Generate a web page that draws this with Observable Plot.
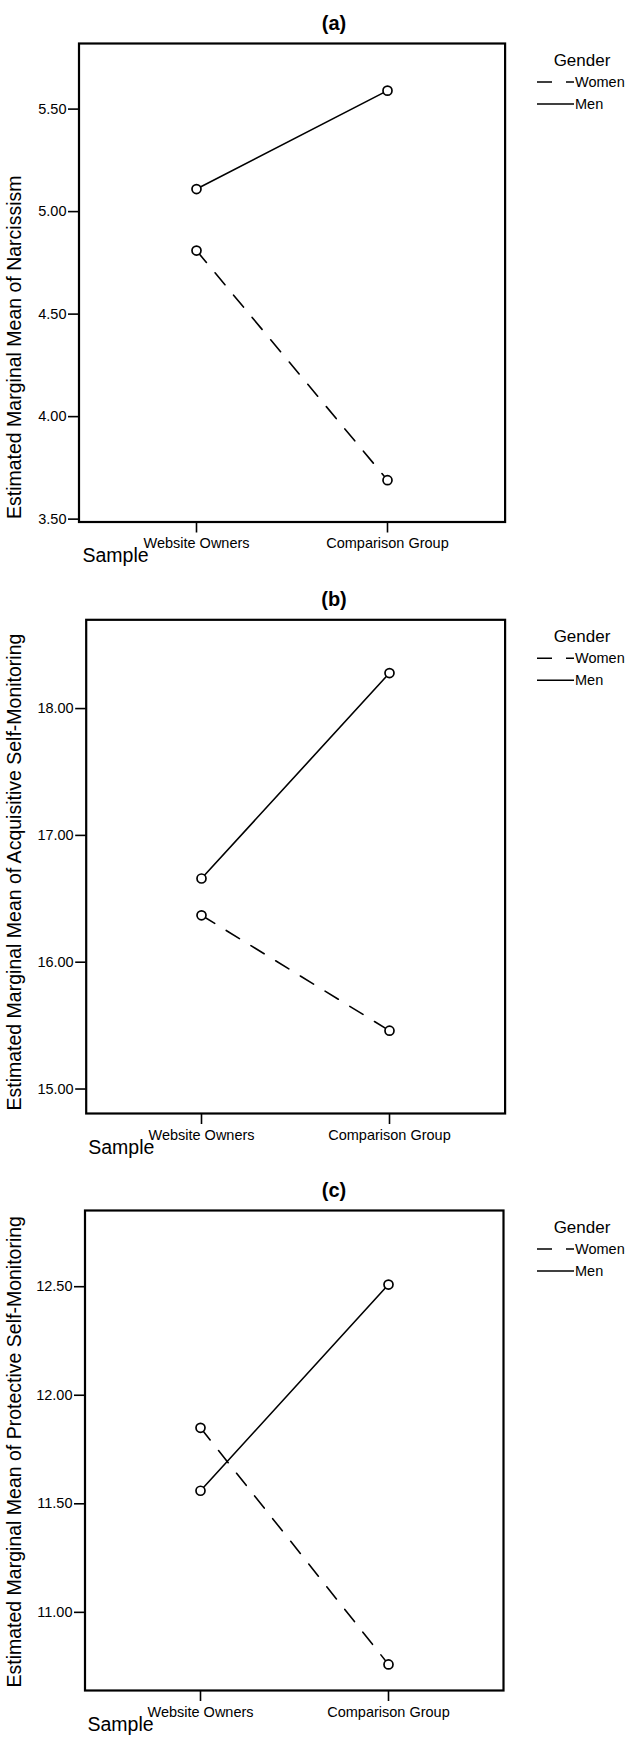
<!DOCTYPE html>
<html><head><meta charset="utf-8">
<script src="https://cdn.jsdelivr.net/npm/d3@7"></script>
<script src="https://cdn.jsdelivr.net/npm/@observablehq/plot@0.6"></script>
<style>
body{margin:0;background:#fff;}
#wrap{position:relative;width:625px;height:1738px;overflow:hidden;font-family:"Liberation Sans",Arial,sans-serif;}
.panel{position:absolute;left:0;}
#overlay{position:absolute;left:0;top:0;pointer-events:none;}
</style></head><body><div id="wrap"></div>
<script>
// ---- data ----
const samples = ["Website Owners", "Comparison Group"];
const genders = ["Women", "Men"];
const panelTitles = ["(a)", "(b)", "(c)"];
const yTitles = [
  "Estimated Marginal Mean of Narcissism",
  "Estimated Marginal Mean of Acquisitive Self-Monitoring",
  "Estimated Marginal Mean of Protective Self-Monitoring"
];
const xTitle = "Sample";
const legendTitle = "Gender";
const narcissismWomen = [4.81, 3.69];
const narcissismMen = [5.11, 5.59];
const acquisitiveWomen = [16.37, 15.46];
const acquisitiveMen = [16.66, 18.28];
const protectiveWomen = [11.85, 10.76];
const protectiveMen = [11.56, 12.51];
const yTicksA = [3.5, 4.0, 4.5, 5.0, 5.5];
const yTicksB = [15, 16, 17, 18];
const yTicksC = [11.0, 11.5, 12.0, 12.5];
const yDomainA = [3.486, 5.82];
const yDomainB = [14.807, 18.70];
const yDomainC = [10.64, 12.851];

// ---- layout ----
const FONT = '"Liberation Sans", Arial, sans-serif';
const DASH = "15.5 13.5";
const layouts = [
  {svgTop: 0, svgBottom: 578, l: 78.5, r: 504.6, t: 43, b: 521.5, sampleX: 82},
  {svgTop: 578, svgBottom: 1168, l: 85.7, r: 504.6, t: 619.3, b: 1113, sampleX: 87.7},
  {svgTop: 1168, svgBottom: 1738, l: 84.5, r: 503, t: 1210, b: 1690, sampleX: 87}
];

function rowsFor(women, men) {
  const vals = {Women: women, Men: men};
  return genders.flatMap(g => samples.map((s, i) => ({sample: s, gender: g, value: vals[g][i]})));
}
const panelData = [
  {rows: rowsFor(narcissismWomen, narcissismMen), ticks: yTicksA, domain: yDomainA},
  {rows: rowsFor(acquisitiveWomen, acquisitiveMen), ticks: yTicksB, domain: yDomainB},
  {rows: rowsFor(protectiveWomen, protectiveMen), ticks: yTicksC, domain: yDomainC}
];

const wrap = document.getElementById("wrap");

panelData.forEach((P, k) => {
  const L = layouts[k];
  const women = P.rows.filter(d => d.gender === "Women");
  const men = P.rows.filter(d => d.gender === "Men");
  const chart = Plot.plot({
    width: 625,
    height: L.svgBottom - L.svgTop,
    marginLeft: L.l,
    marginRight: 625 - L.r,
    marginTop: L.t - L.svgTop,
    marginBottom: L.svgBottom - L.b,
    style: {fontFamily: FONT, fontSize: "14.5px", color: "#000", background: "transparent", overflow: "visible"},
    x: {type: "point", domain: samples, padding: 0.61},
    y: {domain: P.domain},
    marks: [
      Plot.axisY({ticks: P.ticks, tickFormat: d => d.toFixed(2), tickSize: 10.5, tickPadding: 2, label: null, strokeWidth: 1.6, fontSize: 14.5}),
      Plot.axisX({tickSize: 11, tickPadding: 5, label: null, strokeWidth: 1.6, fontSize: 14.5}),
      Plot.frame({stroke: "#000", strokeWidth: 2.2}),
      Plot.line(women, {x: "sample", y: "value", stroke: "#000", strokeWidth: 1.6, strokeDasharray: DASH}),
      Plot.line(men, {x: "sample", y: "value", stroke: "#000", strokeWidth: 1.6}),
      Plot.dot(P.rows, {x: "sample", y: "value", r: 4.5, stroke: "#000", strokeWidth: 1.7, fill: "#fff"}),
      Plot.text([yTitles[k]], {frameAnchor: "bottom-left", text: d => d, rotate: -90, textAnchor: "start", fontSize: 19.5, fill: "#000", dx: 20.5 - L.l, dy: -3}),
      Plot.text([xTitle], {frameAnchor: "bottom-left", text: d => d, textAnchor: "start", fontSize: 19.5, fill: "#000", dx: L.sampleX - L.l, dy: 40})
    ]
  });
  chart.classList.add("panel");
  chart.style.top = L.svgTop + "px";
  wrap.appendChild(chart);
});

// ---- titles and legends overlay ----
const ov = d3.select(wrap).append("svg").attr("id", "overlay")
  .attr("width", 625).attr("height", 1738)
  .style("font-family", FONT);
layouts.forEach((L, k) => {
  ov.append("text").attr("x", 334).attr("y", L.t - 20)
    .attr("text-anchor", "middle").attr("dominant-baseline", "central")
    .attr("font-size", 20).attr("font-weight", "bold").text(panelTitles[k]);
  ov.append("text").attr("x", 582).attr("y", L.t + 17.5)
    .attr("text-anchor", "middle").attr("dominant-baseline", "central")
    .attr("font-size", 17).text(legendTitle);
  genders.forEach((g, i) => {
    const y = L.t + 39 + i * 22;
    ov.append("line").attr("x1", 537).attr("x2", 574).attr("y1", y).attr("y2", y)
      .attr("stroke", "#000").attr("stroke-width", 1.6)
      .attr("stroke-dasharray", g === "Women" ? "15 14" : null);
    ov.append("text").attr("x", 575).attr("y", y)
      .attr("dominant-baseline", "central").attr("font-size", 14.5).text(g);
  });
});
</script></body></html>
